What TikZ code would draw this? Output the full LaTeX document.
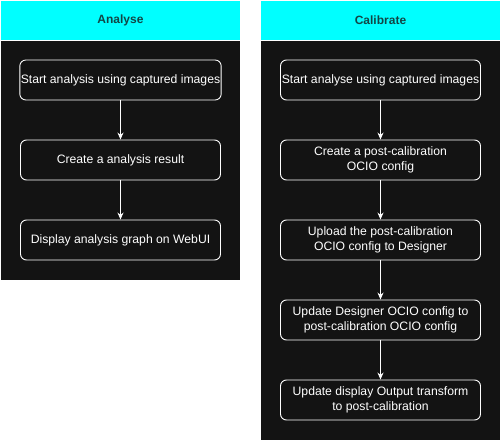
\documentclass[tikz,border=0pt]{standalone}
\usepackage{fontspec}
\setmainfont{Liberation Sans}
\usetikzlibrary{arrows.meta}
\definecolor{pooldark}{RGB}{19,19,19}
\definecolor{headcyan}{RGB}{0,255,255}
\definecolor{headtext}{RGB}{18,70,70}
\tikzset{
  box/.style={draw=white, line width=0.9pt, rounded corners=6pt, fill=pooldark, text=white,
    minimum width=200pt, minimum height=40pt, align=center, font=\fontsize{12.2}{15.5}\selectfont, inner sep=1pt},
  flow/.style={draw=white, line width=0.9pt, -{Stealth[length=7pt,width=6pt]}},
  head/.style={font=\bfseries\fontsize{12}{14}\selectfont, text=headtext}
}
\begin{document}
\begin{tikzpicture}[x=1pt,y=-1pt]
\useasboundingbox (0,0) rectangle (501,441);
\fill[white] (0,0) rectangle (501,441);
% left pool
\fill[headcyan] (1,1) rectangle (240,40);
\fill[pooldark] (1,41) rectangle (240,280);
\node[head] (hA) at (120.5,20.5) {Analyse};
% right pool
\fill[headcyan] (261,1) rectangle (500,40);
\fill[pooldark] (261,41) rectangle (500,440);
\node[head] (hC) at (380.5,20.5) {Calibrate};
% left boxes
\node[box] (a1) at (120.5,80) {Start analysis using captured images};
\node[box] (a2) at (120.5,160) {Create a analysis result};
\node[box] (a3) at (120.5,240) {Display analysis graph on WebUI};
\draw[flow] (a1) -- (a2);
\draw[flow] (a2) -- (a3);
% right boxes
\node[box] (c1) at (380.5,80) {Start analyse using captured images};
\node[box] (c2) at (380.5,160) {Create a post-calibration\\OCIO config};
\node[box] (c3) at (380.5,240) {Upload the post-calibration\\OCIO config to Designer};
\node[box] (c4) at (380.5,320) {Update Designer OCIO config to\\post-calibration OCIO config};
\node[box] (c5) at (380.5,400) {Update display Output transform\\to post-calibration};
\draw[flow] (c1) -- (c2);
\draw[flow] (c2) -- (c3);
\draw[flow] (c3) -- (c4);
\draw[flow] (c4) -- (c5);
\end{tikzpicture}
\end{document}
